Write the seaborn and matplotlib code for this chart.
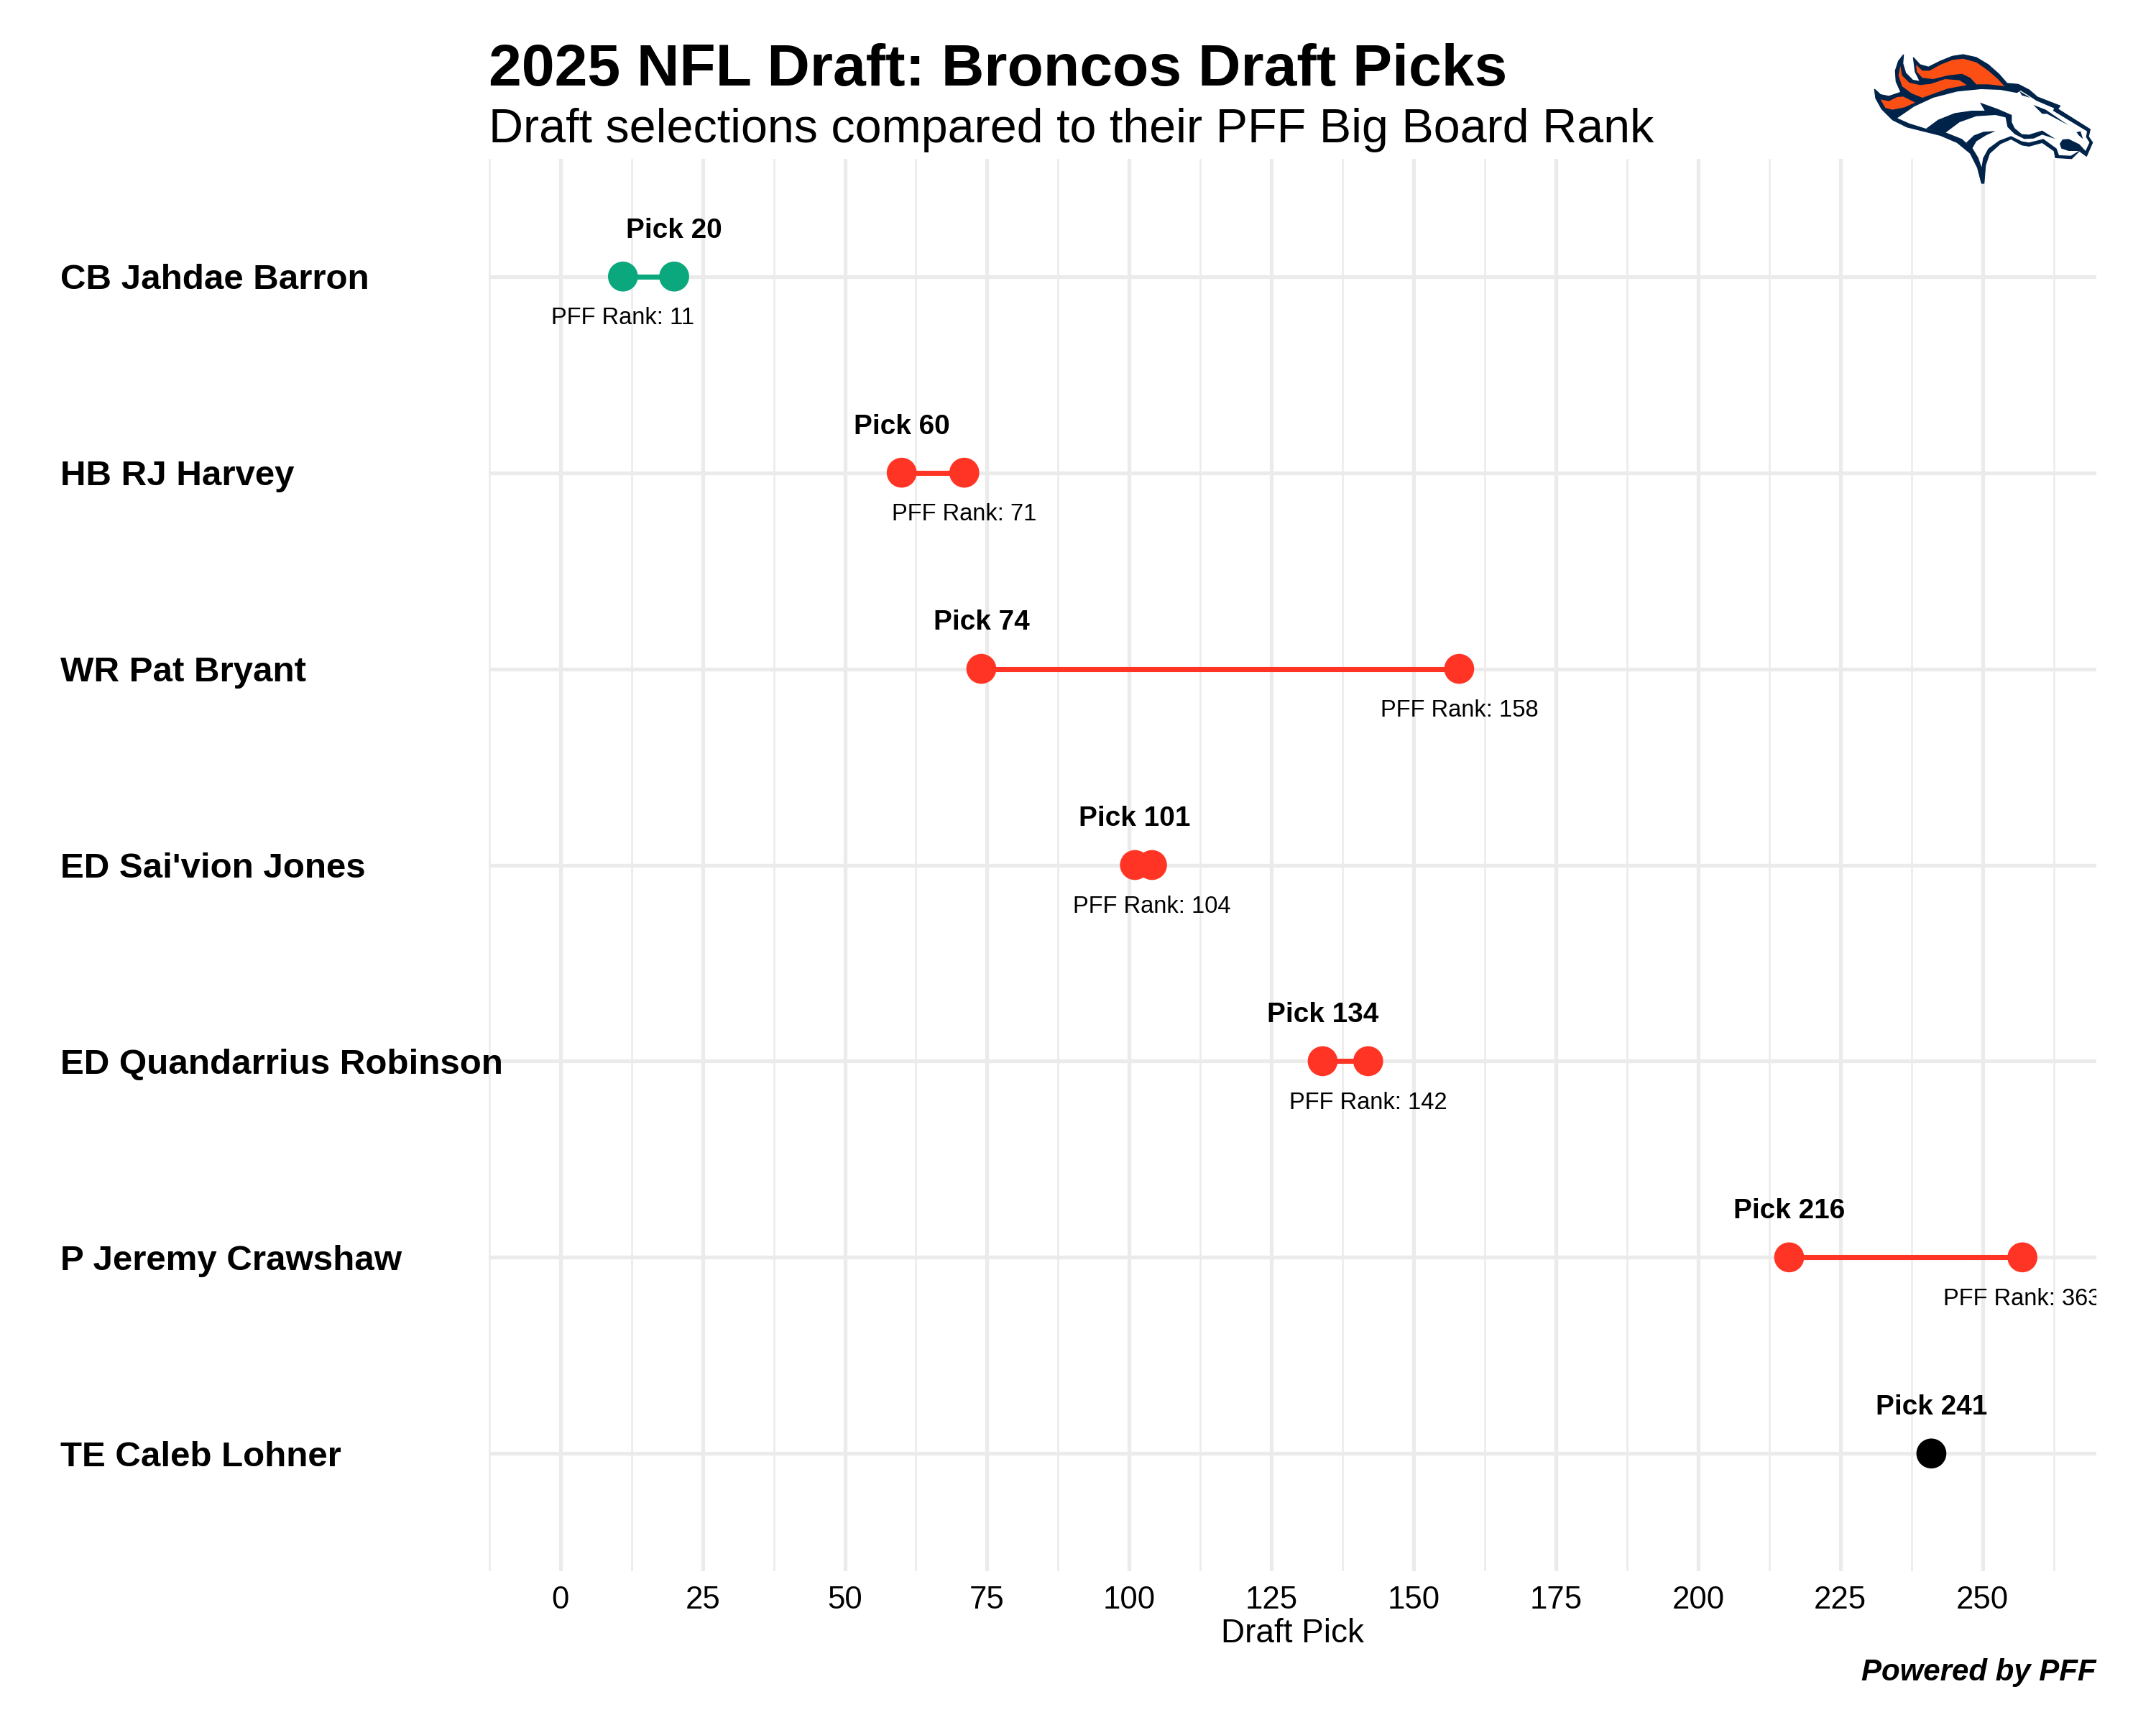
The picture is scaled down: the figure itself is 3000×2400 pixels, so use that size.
import matplotlib
matplotlib.use('Agg')
import matplotlib.pyplot as plt
from matplotlib.patches import Polygon
from matplotlib.ticker import MultipleLocator
import numpy as np
import pandas as pd
import seaborn as sns

players = ['CB Jahdae Barron', 'HB RJ Harvey', 'WR Pat Bryant', "ED Sai'vion Jones",
           'ED Quandarrius Robinson', 'P Jeremy Crawshaw', 'TE Caleb Lohner']
picks = [20, 60, 74, 101, 134, 216, 241]
ranks = [11, 71, 158, 104, 142, 363, None]
# the 363 dot sits at the end of the axis in the original
ranks_drawn = [11, 71, 158, 104, 142, 257, None]
colors = ['#0aa87c', '#ff3424', '#ff3424', '#ff3424', '#ff3424', '#ff3424', '#000000']

navy = '#00234a'
orange = '#fb4f14'

# logo outlines, in pixels of a 3x crop at (2550, 30)
logo_outer = [(175,282),(200,305),(235,312),(285,295),(265,250),(262,205),(275,165),(296,138),(293,175),(305,215),
              (335,245),(365,250),(345,210),(337,150),(365,180),(400,190),(450,165),(500,145),(545,138),(600,150),
              (650,180),(695,220),(728,258),(775,262),(820,285),(855,315),(950,352),(940,365),(1075,450),(1068,480),
              (1085,505),(1060,562),(1030,540),(998,572),(930,568),(925,540),(875,505),(820,520),(790,515),(745,490),
              (700,510),(655,550),(638,600),(632,675),(622,675),(605,610),(575,550),(520,505),(450,475),(390,460),
              (310,440),(250,410),(205,365),(180,320)]
logo_white = [(270,403),(340,355),(420,318),(520,292),(620,282),(700,285),(770,298),(785,288),(820,310),(850,330),
              (925,362),(920,372),(1062,458),(1058,482),(1072,505),(1056,540),(1030,512),(985,490),(960,492),(948,510),
              (955,530),(985,540),(1028,540),(995,560),(945,558),(935,530),(880,490),(820,505),(790,500),(745,478),
              (695,497),(650,530),(628,570),(622,608),(608,568),(585,530),(540,490),(470,462),(390,447),(320,425)]
logo_orange = [[(200,325),(235,332),(270,315),(295,313),(345,338),(300,358),(250,368),(220,360)],
               [(283,185),(290,225),(320,255),(365,265),(410,260),(470,240),(530,245),(560,265),(480,280),(375,318),
                (330,300),(290,270),(275,225)],
               [(348,180),(375,205),(405,205),(450,180),(500,160),(545,155),(600,170),(650,205),(690,240),(718,270),
                (650,262),(600,262),(575,235),(540,218),(480,225),(420,240),(375,235),(352,210)],
               [(878,368),(895,372),(885,384)]]
logo_navy = [[(390,447),(440,410),(510,382),(580,372),(635,372),(615,338),(690,365),(748,390),(748,420),(760,445),
              (790,470),(820,472),(875,455),(930,490),(875,472),(840,488),(800,490),(760,470),(730,440),(722,400),
              (680,390),(600,395),(530,420),(470,465)],
             [(558,505),(590,475),(630,460),(680,457),(640,475),(600,500),(580,535)],
             [(838,348),(890,368),(985,433),(895,385),(875,385)],
             [(1018,462),(1035,458),(1045,490),(1028,475)],
             [(780,290),(825,318),(790,308)]]

df = pd.DataFrame({'player': players, 'pick': picks, 'rank': ranks_drawn, 'color': colors})
pts = pd.concat([df[['player', 'pick', 'color']].rename(columns={'pick': 'value'}),
                 df[['player', 'rank', 'color']].rename(columns={'rank': 'value'})]).dropna()

sns.set_theme(style='whitegrid')
plt.rcParams['font.family'] = ['Liberation Sans', 'DejaVu Sans']
plt.rcParams['text.color'] = 'black'

fig = plt.figure(figsize=(10, 8), dpi=300)
ax = fig.add_axes([680/3000, 1-2186/2400, (2917-680)/3000, (2186-221)/2400])

for i, row in df.dropna(subset=['rank']).iterrows():
    ax.hlines(i, row['pick'], row['rank'], color=row['color'], lw=1.7, zorder=3)

sns.scatterplot(data=pts, x='value', y='player', hue='color', palette={c: c for c in set(colors)},
                s=100, linewidth=0, legend=False, ax=ax, zorder=4, clip_on=True)

for i, row in df.iterrows():
    ax.annotate(f"Pick {row['pick']}", (row['pick'], i), xytext=(0, 13), textcoords='offset points',
                ha='center', va='baseline', fontsize=9.3, fontweight='bold', color='black', zorder=5)
    if ranks[i] is not None:
        ax.annotate(f"PFF Rank: {ranks[i]}", (ranks_drawn[i], i), xytext=(0, -16), textcoords='offset points',
                    ha='center', va='baseline', fontsize=7.85, color='black', zorder=5, clip_on=True)

ax.set_xlim(-12.6, 270)
ax.set_ylim(6.6, -0.6)
ax.xaxis.set_major_locator(MultipleLocator(25))
ax.xaxis.set_minor_locator(MultipleLocator(12.5))
ax.grid(True, which='major', color='#ebebeb', lw=1.25)
ax.grid(True, which='minor', axis='x', color='#ebebeb', lw=0.6)
ax.set_axisbelow(True)
sns.despine(ax=ax, left=True, bottom=True, top=True, right=True)

ax.tick_params(axis='x', which='both', length=0, pad=4.8, labelsize=10.5, labelcolor='black')
ax.tick_params(axis='y', length=0, pad=143, labelsize=11.83, labelcolor='black')
for lab in ax.get_yticklabels():
    lab.set_ha('left')
    lab.set_fontweight('bold')
ax.set_ylabel('')
ax.set_xlabel('Draft Pick', fontsize=11, color='black', labelpad=1)

fig.text(680/3000, 1-119/2400, '2025 NFL Draft: Broncos Draft Picks', fontsize=19.77, fontweight='bold', va='baseline')
fig.text(680/3000, 1-198/2400, 'Draft selections compared to their PFF Big Board Rank', fontsize=15.93, va='baseline')
fig.text(2917/3000, 1-2338/2400, 'Powered by PFF', fontsize=10.1, fontweight='bold', style='italic', ha='right', va='baseline')

def logo_xy(p):
    p = np.array(p, dtype=float)
    return np.column_stack([(2550 + p[:, 0]/3)/3000, 1 - (30 + p[:, 1]/3)/2400])

fig.add_artist(Polygon(logo_xy(logo_outer), closed=True, fc=navy, ec=navy, lw=0.3, transform=fig.transFigure, zorder=6))
fig.add_artist(Polygon(logo_xy(logo_white), closed=True, fc='white', ec='none', transform=fig.transFigure, zorder=7))
for shape in logo_orange:
    fig.add_artist(Polygon(logo_xy(shape), closed=True, fc=orange, ec='none', transform=fig.transFigure, zorder=8))
for shape in logo_navy:
    fig.add_artist(Polygon(logo_xy(shape), closed=True, fc=navy, ec='none', transform=fig.transFigure, zorder=8))

fig.savefig('out.png', dpi=300, facecolor='white')
